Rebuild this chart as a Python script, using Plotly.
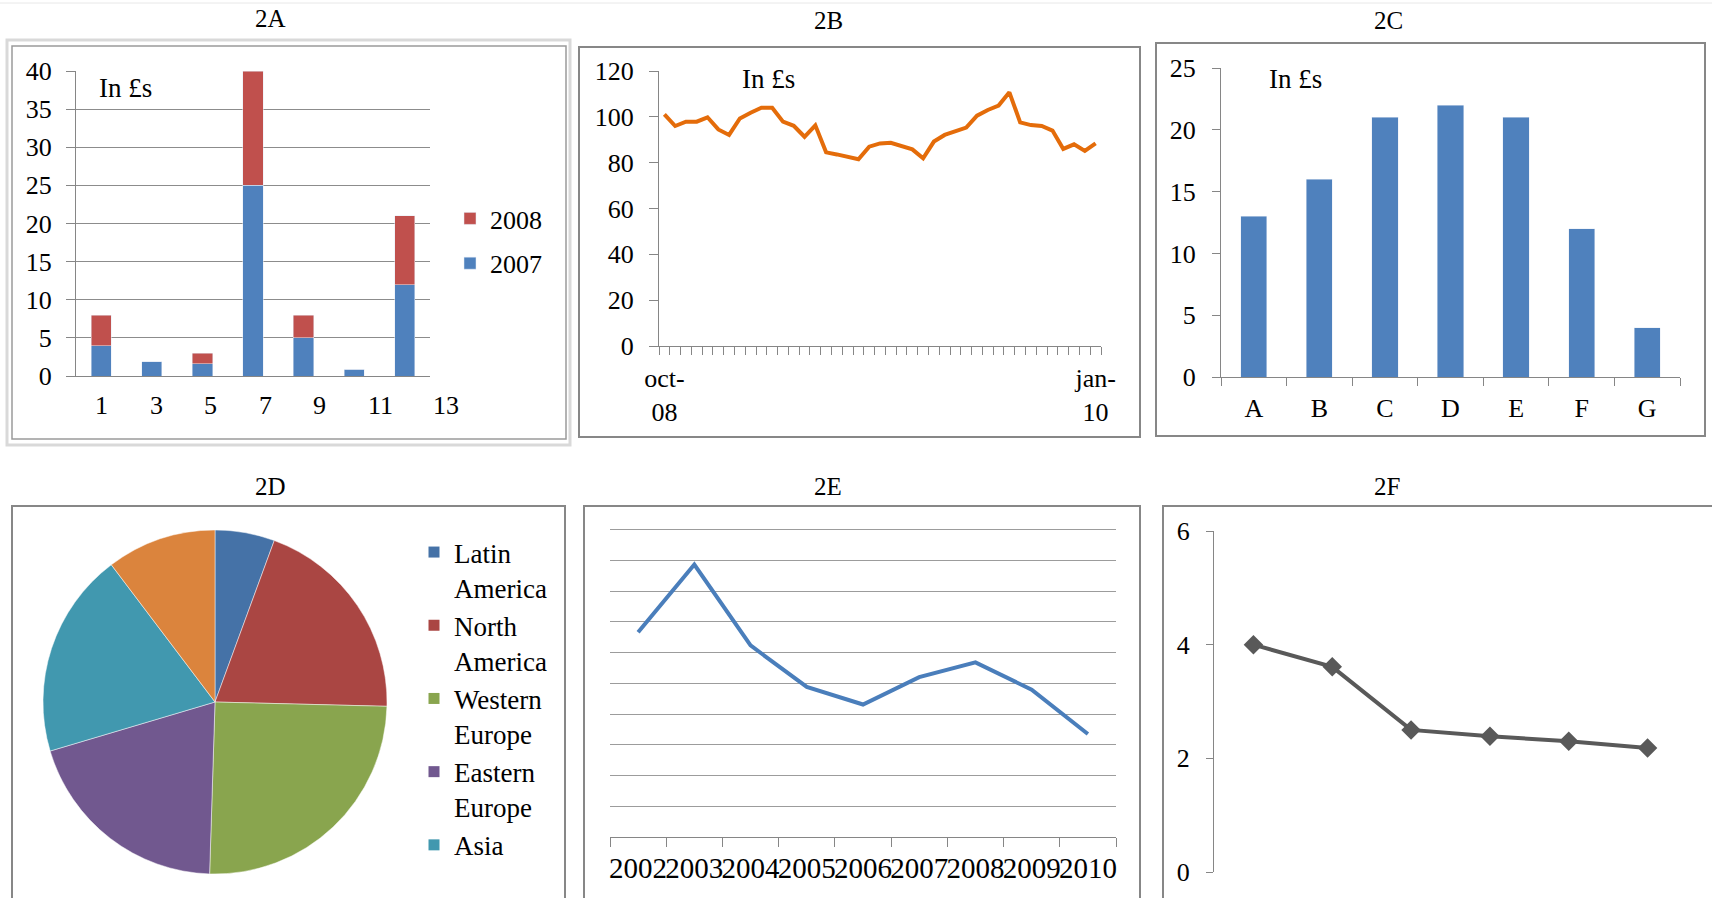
import plotly.graph_objects as go

W, H = 1712, 898
FONT = "Liberation Serif"

# ---------------- data ----------------
# 2A stacked bars
a_categories = ["1", "3", "5", "7", "9", "11", "13"]
a_2007 = [4, 1.9, 1.6, 25, 5, 0.9, 12]
a_2008 = [4, 0, 1.4, 15, 3, 0, 9]
a_series = ["2007", "2008"]

# 2B line (oct-08 .. jan-10)
b_values = [101.1, 96.0, 97.9, 97.9, 99.8, 94.5, 92.1, 99.3, 101.8, 104.0,
            104.0, 97.9, 96.1, 91.3, 96.3, 84.5, 83.6, 82.6, 81.5, 87.0,
            88.4, 88.7, 87.4, 85.8, 81.9, 89.2, 92.1, 93.8, 95.3, 100.5,
            103.0, 104.9, 110.7, 97.6, 96.4, 96.0, 94.0, 86.0, 88.0, 85.1,
            88.4]
b_ticklabels = ["oct-<br>08", "jan-<br>10"]

# 2C bars
c_categories = ["A", "B", "C", "D", "E", "F", "G"]
c_values = [13, 16, 21, 22, 21, 12, 4]

# 2D pie (the sixth region's legend entry is cut off in the original)
d_regions = ["Latin<br>America", "North<br>America", "Western<br>Europe",
             "Eastern<br>Europe", "Asia", "Africa"]
d_shares = [5.6, 19.8, 25.1, 19.9, 19.3, 10.3]
d_colors = ["#4572A7", "#AA4643", "#89A54E", "#71588F", "#4198AF", "#DB843D"]
d_visible_entries = 5

# 2E line
e_years = ["2002", "2003", "2004", "2005", "2006", "2007", "2008", "2009", "2010"]
e_values = [6.66, 8.86, 6.23, 4.88, 4.31, 5.2, 5.68, 4.79, 3.35]

# 2F line with markers
f_points = [1, 2, 3, 4, 5, 6]
f_values = [4.0, 3.61, 2.5, 2.39, 2.30, 2.18]

# ---------------- helpers ----------------
def fx(p):
    return p / W


def fy(p):
    return 1 - p / H


AX = "#868686"
TICKFONT = dict(family=FONT, size=26, color="#000000")

fig = go.Figure()

# 2A
fig.add_trace(go.Bar(x=a_categories, y=a_2007, name=a_series[0], marker_color="#4F81BD",
                     xaxis="x", yaxis="y", legend="legend2", legendgroup="a07", legendrank=2))
fig.add_trace(go.Bar(x=a_categories, y=a_2008, name=a_series[1], marker_color="#C0504D",
                     xaxis="x", yaxis="y", legend="legend2", legendgroup="a08", legendrank=1))

# 2B
b_index = list(range(len(b_values)))
fig.add_trace(go.Scatter(x=b_index, y=b_values, mode="lines",
                         line=dict(color="#E46C0A", width=4), showlegend=False,
                         xaxis="x2", yaxis="y2"))

# 2C
fig.add_trace(go.Bar(x=c_categories, y=c_values, marker_color="#4F81BD", showlegend=False,
                     xaxis="x3", yaxis="y3", width=0.4))

# 2D
fig.add_trace(go.Pie(labels=d_regions, values=d_shares, sort=False, direction="clockwise",
                     rotation=0, textinfo="none", showlegend=False,
                     marker=dict(colors=d_colors,
                                 line=dict(color="rgba(255,255,255,0.6)", width=0.8)),
                     domain=dict(x=[fx(40), fx(390)], y=[fy(874), fy(530)])))
# legend entries for the pie (only the ones visible on the page)
for name, col in zip(d_regions[:d_visible_entries], d_colors[:d_visible_entries]):
    fig.add_trace(go.Scatter(x=[None], y=[None], mode="markers", name=name,
                             marker=dict(symbol="square", size=11, color=col),
                             xaxis="x5", yaxis="y5", legend="legend", hoverinfo="skip"))

# 2E
fig.add_trace(go.Scatter(x=e_years, y=e_values, mode="lines",
                         line=dict(color="#4A7EBB", width=4), showlegend=False,
                         xaxis="x4", yaxis="y4"))

# 2F
fig.add_trace(go.Scatter(x=f_points, y=f_values, mode="lines+markers",
                         line=dict(color="#595959", width=4),
                         marker=dict(symbol="diamond", size=15, color="#595959"),
                         showlegend=False, xaxis="x5", yaxis="y5"))

common_y = dict(showline=True, linecolor=AX, linewidth=1, ticks="outside", tickcolor=AX,
                tickfont=TICKFONT, zeroline=False)

layout = dict(
    width=W, height=H,
    margin=dict(l=0, r=0, t=0, b=0, autoexpand=False),
    paper_bgcolor="white", plot_bgcolor="rgba(0,0,0,0)",
    barmode="stack", bargap=0.6,
    font=dict(family=FONT, color="#000000"),
    # 2A
    xaxis=dict(domain=[fx(76), fx(430)], anchor="y", type="category",
               range=[-0.5, len(a_categories) - 0.5], showticklabels=False,
               ticks="", showline=True, linecolor=AX, showgrid=False, fixedrange=True),
    yaxis=dict(domain=[fy(376), fy(71)], anchor="x", range=[0, 40], dtick=5,
               showgrid=True, gridcolor="#8c8c8c", gridwidth=1, ticklen=9,
               ticklabelstandoff=9, **common_y),
    # 2B
    xaxis2=dict(domain=[fx(659), fx(1101)], anchor="y2", range=[-0.5, len(b_values) - 0.5],
                tickvals=[b_index[0], b_index[-1]], ticktext=b_ticklabels, ticks="",
                showline=True, linecolor=AX, showgrid=False, zeroline=False, tickfont=TICKFONT,
                ticklabelstandoff=9, tickangle=0,
                minor=dict(ticks="outside", dtick=1, tick0=0.5, ticklen=8, tickcolor=AX, showgrid=False)),
    yaxis2=dict(domain=[fy(346), fy(71)], anchor="x2", range=[0, 120], dtick=20,
                showgrid=False, ticklen=9, ticklabelstandoff=10, **common_y),
    # 2C
    xaxis3=dict(domain=[fx(1221), fx(1680)], anchor="y3", type="category",
                range=[-0.5, len(c_categories) - 0.5], tickson="boundaries",
                ticks="outside", ticklen=8, tickcolor=AX, showline=True, linecolor=AX,
                tickfont=TICKFONT, ticklabelstandoff=8, tickangle=0),
    yaxis3=dict(domain=[fy(377), fy(68)], anchor="x3", range=[0, 25], dtick=5,
                showgrid=False, ticklen=8, ticklabelstandoff=11, **common_y),
    # 2E
    xaxis4=dict(domain=[fx(610), fx(1116)], anchor="y4", type="category",
                range=[-0.5, len(e_years) - 0.5], tickson="boundaries",
                ticks="outside", ticklen=9, tickcolor=AX, showline=True, linecolor=AX, tickangle=0,
                tickfont=dict(family=FONT, size=29, color="#000000"), ticklabelstandoff=5),
    yaxis4=dict(domain=[fy(837), fy(528)], anchor="x4", range=[0, 10.05], dtick=1,
                showgrid=True, gridcolor="#9c9c9c", showticklabels=False, ticks="",
                showline=False, zeroline=False),
    # 2F
    xaxis5=dict(domain=[fx(1214), fx(1687)], anchor="y5", range=[0.5, 6.5],
                showticklabels=False, ticks="", showline=False, showgrid=False, zeroline=False),
    yaxis5=dict(domain=[fy(872), fy(531)], anchor="x5", range=[0, 6], dtick=2,
                showgrid=False, ticklen=7, ticklabelstandoff=11, **common_y),
    legend=dict(x=fx(414), y=fy(528), xanchor="left", yanchor="top", valign="top",
                font=dict(family=FONT, size=27, color="#000000"),
                bgcolor="rgba(0,0,0,0)", traceorder="normal"),
    legend2=dict(x=fx(450), y=fy(195), xanchor="left", yanchor="top",
                 font=dict(family=FONT, size=26, color="#000000"),
                 bgcolor="rgba(0,0,0,0)", traceorder="grouped", tracegroupgap=8),
)

annotations = []
# panel titles
for txt, cx, cy in [("2A", 270, 19), ("2B", 828, 20), ("2C", 1388, 20),
                    ("2D", 270, 486), ("2E", 828, 486), ("2F", 1387, 486)]:
    annotations.append(dict(text=txt, x=fx(cx), y=fy(cy), xref="paper", yref="paper",
                            xanchor="center", yanchor="middle", showarrow=False,
                            font=dict(family=FONT, size=25, color="#000000")))
# "In £s" notes
for cx, cy in [(126, 88), (768, 79), (1295, 79)]:
    annotations.append(dict(text="In £s", x=fx(cx), y=fy(cy), xref="paper", yref="paper",
                            xanchor="center", yanchor="middle", showarrow=False,
                            font=dict(family=FONT, size=27, color="#000000")))
# 2A x labels (drifting placement as in the original)
a_label_pos = [0.072, 0.226, 0.381, 0.534, 0.689, 0.859, 1.044]
for lab, pos in zip(a_categories, a_label_pos):
    annotations.append(dict(text=lab, x=pos, y=fy(406), xref="x domain", yref="paper",
                            xanchor="center", yanchor="middle", showarrow=False,
                            font=dict(family=FONT, size=26, color="#000000")))
layout["annotations"] = annotations

shapes = [
    # faint top line
    dict(type="line", xref="paper", yref="paper", x0=0, x1=1, y0=fy(3), y1=fy(3),
         line=dict(color="#e8e8e8", width=1)),
    # 2A frame (selected chart look)
    dict(type="rect", xref="paper", yref="paper", x0=fx(7), x1=fx(570), y0=fy(445), y1=fy(40),
         line=dict(color="#d9d9d9", width=3)),
    dict(type="rect", xref="paper", yref="paper", x0=fx(12), x1=fx(566), y0=fy(439), y1=fy(46),
         line=dict(color="#9a9a9a", width=1.5)),
    # 2B, 2C frames
    dict(type="rect", xref="paper", yref="paper", x0=fx(579), x1=fx(1140), y0=fy(437), y1=fy(47),
         line=dict(color="#878787", width=2)),
    dict(type="rect", xref="paper", yref="paper", x0=fx(1156), x1=fx(1705), y0=fy(436), y1=fy(43),
         line=dict(color="#878787", width=2)),
    # bottom frames (cut by the page edge)
    dict(type="rect", xref="paper", yref="paper", x0=fx(12), x1=fx(565), y0=fy(940), y1=fy(506),
         line=dict(color="#878787", width=2)),
    dict(type="rect", xref="paper", yref="paper", x0=fx(584), x1=fx(1140), y0=fy(940), y1=fy(506),
         line=dict(color="#878787", width=2)),
    dict(type="rect", xref="paper", yref="paper", x0=fx(1163), x1=fx(1760), y0=fy(940), y1=fy(506),
         line=dict(color="#878787", width=2)),
]
layout["shapes"] = shapes

fig.update_layout(**layout)
fig.write_html("out.html", config={"displayModeBar": False},
               post_script="document.body.style.margin='0px';document.body.style.overflow='hidden';")
